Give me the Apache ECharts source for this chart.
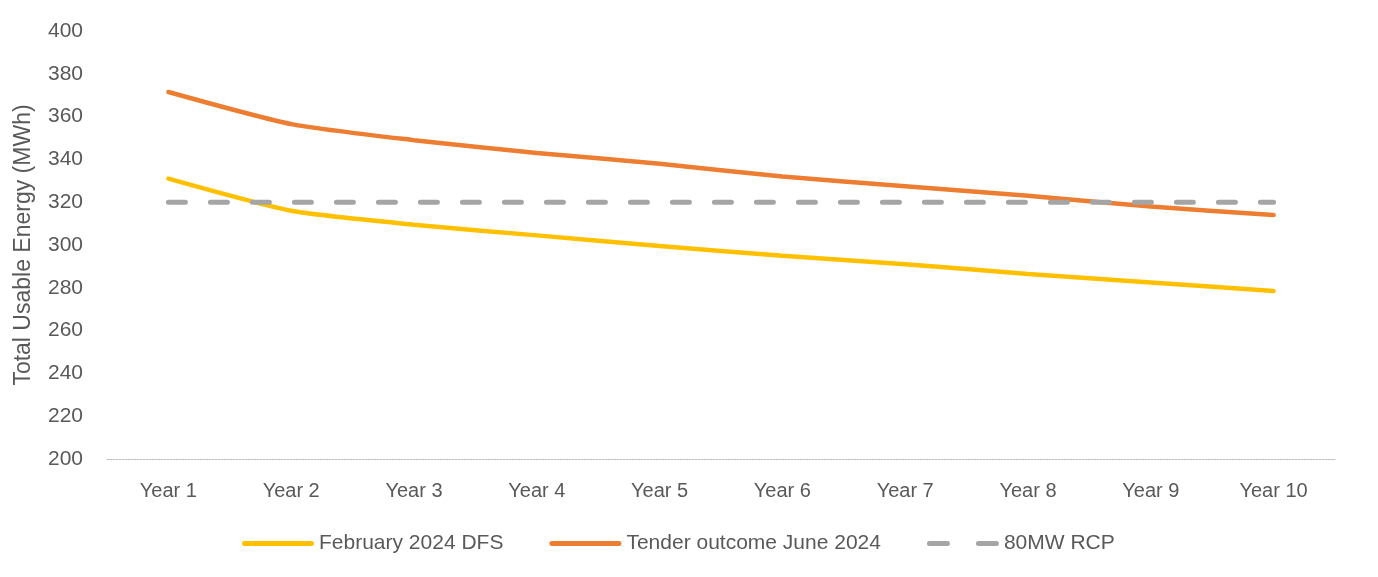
<!DOCTYPE html>
<html>
<head>
<meta charset="utf-8">
<script src="https://cdn.jsdelivr.net/npm/echarts@6/dist/echarts.min.js"></script>
<style>
html,body{margin:0;padding:0;background:#fff;}
#chart{width:1378px;height:577px;}
</style>
</head>
<body>
<div id="chart"></div>
<script>
const categories = ['Year 1','Year 2','Year 3','Year 4','Year 5','Year 6','Year 7','Year 8','Year 9','Year 10'];
const febDFS = [331, 316, 309.5, 304.5, 299.5, 295, 291, 286.5, 282.5, 278.5];
const tenderJune = [371.5, 356.5, 349, 343, 338, 332, 327.5, 323, 318, 314];
const rcp80 = [320, 320, 320, 320, 320, 320, 320, 320, 320, 320];
const seriesNames = ['February 2024 DFS', 'Tender outcome June 2024', '80MW RCP'];

const FONT = '"Liberation Sans", Arial, sans-serif';
const chart = echarts.init(document.getElementById('chart'), null, {renderer: 'canvas'});
chart.setOption({
  animation: false,
  backgroundColor: '#ffffff',
  grid: {left: 107, right: 43, top: 31, bottom: 118, containLabel: false, outerBoundsMode: 'none'},
  legend: {
    bottom: 18,
    left: 237,
    itemWidth: 72,
    itemHeight: 5,
    itemGap: 46,
    textStyle: {color: '#595959', fontSize: 21, fontFamily: FONT},
    data: [
      {name: seriesNames[0], icon: 'path://M2.5,0h67a2.5,2.5 0 0 1 0,5h-67a2.5,2.5 0 0 1 0,-5z'},
      {name: seriesNames[1], icon: 'path://M2.5,0h67a2.5,2.5 0 0 1 0,5h-67a2.5,2.5 0 0 1 0,-5z'},
      {name: seriesNames[2], icon: 'path://M2.5,0h18a2.5,2.5 0 0 1 0,5h-18a2.5,2.5 0 0 1 0,-5z M51.5,0h18a2.5,2.5 0 0 1 0,5h-18a2.5,2.5 0 0 1 0,-5z'}
    ]
  },
  xAxis: {
    type: 'category',
    data: categories,
    boundaryGap: true,
    axisLine: {show: true, lineStyle: {color: '#BFBFBF', width: 1, type: [2, 1]}},
    axisTick: {show: false},
    axisLabel: {color: '#595959', fontSize: 20, fontFamily: FONT, margin: 22}
  },
  yAxis: {
    type: 'value',
    min: 200, max: 400, interval: 20,
    name: 'Total Usable Energy (MWh)',
    nameLocation: 'middle',
    nameGap: 72,
    nameTextStyle: {color: '#595959', fontSize: 23, fontFamily: FONT},
    axisLine: {show: false},
    axisTick: {show: false},
    splitLine: {show: false},
    axisLabel: {color: '#595959', fontSize: 21, fontFamily: FONT, margin: 24}
  },
  series: [
    {
      name: seriesNames[0], type: 'line', data: febDFS, symbol: 'none', smooth: 0.2,
      lineStyle: {color: '#FFC000', width: 4.5, cap: 'round'},
      itemStyle: {color: '#FFC000'}
    },
    {
      name: seriesNames[1], type: 'line', data: tenderJune, symbol: 'none', smooth: 0.2,
      lineStyle: {color: '#ED7D31', width: 4.5, cap: 'round'},
      itemStyle: {color: '#ED7D31'}
    },
    {
      name: seriesNames[2], type: 'line', data: rcp80, symbol: 'none',
      lineStyle: {color: '#A5A5A5', width: 5, type: [17, 25], cap: 'round'},
      itemStyle: {color: '#A5A5A5'}
    }
  ]
});
</script>
</body>
</html>
